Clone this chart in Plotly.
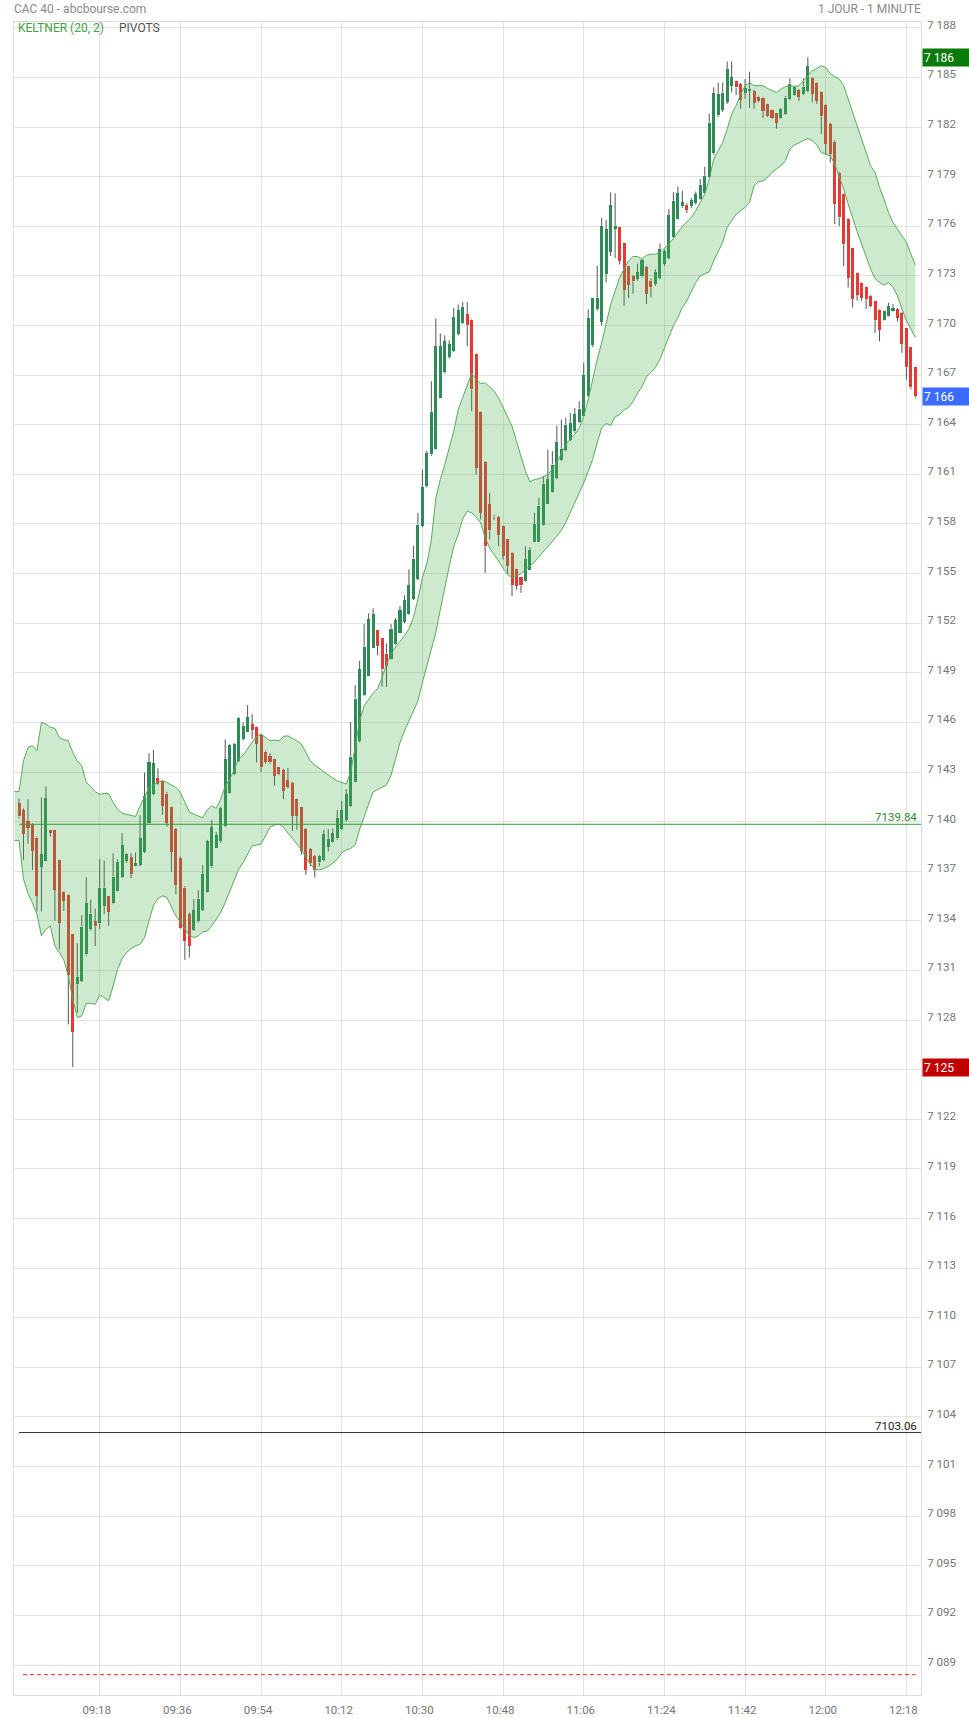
import plotly.graph_objects as go

# ---------------- data (1-minute candles, CAC 40, 09:00 -> 12:20) ----------------
start_minute = 9 * 60  # 09:00
opens = [
7141.12,7140.69,7140.01,7139.85,7139.04,7137.27,7137.63,7139.52,7139.48,7137.67,
7135.77,7135.55,7133.19,7130.16,7130.37,7131.98,7133.51,7133.98,7133.84,7134.90,
7135.49,7135.05,7135.81,7136.66,7137.63,7137.85,7137.33,7137.39,7138.17,7139.89,
7141.70,7142.61,7142.43,7141.70,7140.86,7139.54,7137.83,7136.01,7134.40,7133.45,
7134.00,7134.66,7135.75,7137.29,7138.43,7138.80,7139.75,7141.76,7142.87,7143.68,
7144.99,7145.44,7145.90,7145.70,7145.23,7144.24,7143.94,7143.76,7143.28,7143.12,
7142.51,7142.31,7141.36,7140.86,7139.54,7138.33,7137.93,7137.53,7137.69,7138.48,
7138.74,7138.98,7139.58,7140.11,7140.95,7142.42,7144.88,7147.64,7148.81,7150.52,
7151.57,7151.09,7150.16,7149.82,7150.73,7151.43,7152.10,7152.54,7153.49,7154.70,
7157.90,7160.28,7162.20,7162.54,7165.63,7167.18,7168.10,7168.45,7169.50,7170.16,
7170.67,7170.36,7168.25,7164.78,7161.73,7159.21,7158.45,7158.43,7157.86,7157.06,
7156.25,7155.28,7154.78,7154.54,7155.24,7156.92,7156.92,7157.96,7159.23,7159.94,
7160.79,7161.85,7162.50,7163.10,7163.60,7164.15,7164.52,7165.73,7168.81,7171.00,
7170.21,7173.10,7174.46,7175.86,7175.98,7174.96,7173.58,7173.00,7172.81,7172.98,
7173.52,7172.71,7172.53,7172.87,7173.73,7174.09,7175.35,7176.42,7177.20,7177.30,
7177.20,7177.40,7177.64,7178.04,7179.00,7180.41,7182.71,7183.02,7183.51,7184.49,
7184.76,7184.59,7184.08,7184.18,7184.18,7183.84,7183.78,7183.37,7183.02,7182.82,
7182.55,7182.80,7183.71,7183.94,7184.22,7184.02,7184.18,7184.94,7184.66,7184.09,
7183.35,7182.18,7181.11,7179.25,7177.98,7176.46,7174.66,7173.15,7172.54,7172.30,
7171.80,7171.47,7170.96,7170.34,7170.60,7170.89,7170.99,7170.73,7169.82,7168.67,
7167.46]
highs = [
7141.40,7140.80,7141.36,7139.90,7139.10,7141.46,7142.13,7139.52,7139.50,7137.70,
7135.80,7135.60,7133.20,7132.64,7134.34,7136.64,7135.29,7134.74,7137.73,7137.65,
7135.50,7138.09,7137.71,7139.30,7138.09,7138.10,7138.13,7140.39,7142.97,7144.14,
7144.33,7143.22,7142.50,7141.80,7140.90,7139.60,7137.90,7136.10,7134.50,7135.31,
7135.85,7137.39,7138.90,7140.09,7139.38,7140.90,7144.97,7144.70,7144.75,7146.30,
7146.00,7147.05,7146.50,7145.75,7145.30,7144.30,7144.14,7143.80,7143.30,7143.20,
7143.24,7142.40,7141.40,7140.90,7139.60,7138.40,7138.00,7138.00,7139.50,7139.54,
7139.58,7140.71,7141.26,7141.97,7146.03,7148.25,7149.72,7151.94,7152.60,7152.90,
7151.60,7151.10,7150.77,7151.94,7152.30,7153.04,7153.69,7155.26,7156.67,7158.67,
7161.29,7162.40,7166.63,7170.42,7169.52,7169.40,7169.10,7171.07,7171.27,7171.43,
7171.41,7170.40,7168.30,7164.80,7161.80,7159.88,7158.55,7158.50,7157.90,7157.10,
7156.30,7155.30,7154.80,7156.65,7156.60,7158.67,7159.58,7160.89,7162.50,7162.40,
7163.95,7164.31,7164.42,7164.72,7165.02,7165.42,7167.74,7170.97,7171.67,7173.60,
7176.52,7176.38,7178.05,7178.00,7176.00,7175.00,7173.60,7173.05,7173.75,7174.00,
7173.60,7172.85,7173.40,7174.96,7174.60,7177.03,7178.05,7178.41,7178.15,7177.40,
7177.70,7178.10,7178.85,7179.60,7182.80,7184.40,7184.69,7184.69,7185.96,7185.96,
7184.80,7184.65,7184.90,7185.35,7184.25,7183.90,7183.80,7183.40,7183.05,7182.85,
7183.15,7183.88,7184.94,7184.45,7184.30,7184.94,7186.22,7185.00,7184.70,7184.15,
7183.40,7182.25,7181.20,7179.30,7178.00,7176.50,7174.70,7173.20,7172.60,7172.35,
7171.85,7171.50,7171.00,7170.90,7171.37,7171.30,7171.05,7170.80,7169.85,7168.70,
7167.50]
lows = [
7140.20,7137.69,7138.66,7137.08,7134.56,7134.56,7137.60,7139.10,7134.00,7132.28,
7134.60,7127.74,7125.16,7128.45,7130.30,7131.90,7133.40,7132.48,7133.50,7134.40,
7133.70,7135.00,7135.80,7136.60,7137.50,7136.58,7137.30,7137.30,7138.10,7139.80,
7141.60,7142.20,7140.41,7139.70,7136.96,7135.61,7133.50,7131.64,7131.78,7133.40,
7133.90,7134.60,7135.70,7137.20,7138.40,7138.70,7139.70,7141.70,7142.80,7143.60,
7144.90,7145.40,7145.00,7143.58,7143.00,7143.50,7143.50,7142.17,7142.80,7141.36,
7142.00,7139.44,7139.50,7138.00,7136.78,7137.30,7136.62,7137.30,7137.60,7138.19,
7138.70,7138.90,7139.50,7140.00,7140.90,7142.40,7144.80,7147.60,7148.80,7150.50,
7150.06,7148.15,7148.15,7149.80,7150.70,7151.40,7152.00,7152.50,7153.40,7154.60,
7157.80,7160.20,7162.10,7162.50,7165.60,7167.10,7168.00,7168.40,7169.40,7170.10,
7168.75,7164.82,7160.99,7158.27,7155.04,7157.06,7158.25,7156.65,7155.85,7155.00,
7153.63,7154.03,7153.83,7154.50,7155.20,7156.90,7156.90,7157.90,7159.20,7159.90,
7160.70,7161.80,7162.40,7163.00,7163.50,7164.10,7164.50,7165.70,7168.70,7170.90,
7170.00,7172.60,7174.20,7174.09,7173.69,7171.19,7171.66,7171.92,7172.70,7172.90,
7171.30,7171.70,7172.40,7172.80,7173.60,7174.00,7175.30,7176.40,7177.10,7176.80,
7177.10,7177.30,7177.60,7178.00,7178.90,7180.30,7182.60,7182.90,7183.40,7184.08,
7183.92,7183.10,7183.71,7183.16,7183.10,7183.50,7182.55,7182.60,7182.49,7181.90,
7182.50,7182.75,7183.65,7183.90,7183.57,7183.95,7184.10,7183.50,7183.40,7181.57,
7180.36,7179.86,7176.13,7176.00,7173.58,7172.30,7171.09,7171.50,7171.50,7171.00,
7171.10,7169.55,7169.05,7170.30,7170.55,7170.85,7170.26,7168.34,7166.73,7166.13,
7165.62]
closes = [
7140.31,7139.26,7139.63,7138.23,7135.51,7138.03,7141.42,7139.32,7135.87,7133.90,
7135.21,7130.71,7127.28,7130.59,7133.65,7135.07,7134.44,7133.67,7136.01,7136.01,
7134.54,7136.68,7137.57,7138.58,7138.03,7136.82,7137.49,7138.98,7141.52,7143.58,
7143.52,7142.25,7140.96,7139.91,7138.17,7136.18,7133.55,7132.79,7132.48,7134.64,
7135.35,7136.82,7138.80,7139.67,7139.18,7140.82,7143.76,7144.65,7144.69,7146.24,
7145.80,7146.30,7145.54,7144.69,7143.28,7143.62,7143.58,7142.77,7142.87,7141.86,
7142.11,7140.35,7140.35,7138.23,7137.08,7137.49,7137.08,7137.93,7139.24,7138.94,
7139.30,7140.21,7140.69,7141.66,7143.93,7147.44,7149.21,7150.58,7152.24,7152.54,
7150.62,7149.21,7149.42,7151.67,7152.18,7152.78,7153.39,7154.29,7155.91,7157.96,
7160.24,7162.26,7164.78,7168.75,7168.75,7169.05,7168.85,7170.52,7170.91,7171.13,
7170.02,7166.13,7161.39,7158.67,7156.65,7157.62,7158.47,7157.32,7156.09,7155.44,
7154.33,7154.27,7154.29,7155.89,7156.41,7158.02,7159.11,7160.44,7160.69,7161.59,
7162.96,7162.54,7164.01,7164.11,7164.62,7164.98,7167.00,7170.46,7171.67,7171.68,
7176.02,7175.82,7177.28,7176.02,7173.89,7172.16,7172.47,7172.67,7173.24,7173.95,
7171.90,7172.31,7173.24,7174.60,7174.50,7176.67,7177.54,7178.00,7177.44,7177.00,
7177.58,7177.94,7178.51,7179.05,7182.26,7184.04,7183.98,7184.08,7185.51,7185.00,
7184.39,7183.63,7184.33,7184.29,7183.47,7183.57,7182.96,7182.65,7182.55,7182.24,
7183.10,7183.78,7184.63,7184.39,7183.84,7184.45,7185.67,7184.00,7183.59,7182.64,
7180.97,7180.36,7177.34,7176.53,7174.90,7172.86,7171.59,7171.85,7171.67,7171.59,
7171.19,7170.34,7169.74,7170.85,7171.19,7171.03,7170.48,7168.91,7167.46,7166.25,
7165.72]

# Keltner (20, 2) channel, first point sits one minute before the open
keltner_start = -1
keltner_upper = [
7141.82,7141.82,7143.68,7144.49,7144.59,7144.29,7146.00,7145.90,7145.70,7145.64,7145.09,
7144.95,7144.89,7144.18,7143.68,7143.38,7142.37,7142.13,7141.80,7141.66,7141.70,
7141.70,7141.16,7140.75,7140.51,7140.45,7140.35,7140.31,7140.92,7141.52,7142.07,
7142.21,7142.37,7142.47,7142.37,7142.21,7142.07,7141.76,7141.16,7140.59,7140.45,
7140.35,7140.23,7140.71,7140.96,7140.80,7141.36,7142.13,7142.57,7143.14,7143.78,
7144.02,7144.43,7144.79,7145.15,7145.29,7145.09,7144.89,7144.93,7144.89,7145.15,
7145.19,7145.03,7144.89,7144.69,7144.18,7143.68,7143.42,7143.22,7143.01,7142.81,
7142.63,7142.47,7142.37,7142.27,7143.00,7144.58,7146.09,7147.00,7147.40,7147.76,
7148.04,7148.71,7149.52,7150.12,7150.56,7150.87,7151.23,7151.67,7152.34,7153.45,
7154.76,7155.60,7157.06,7159.58,7160.69,7161.59,7162.60,7163.61,7164.92,7165.62,
7166.37,7167.10,7166.77,7166.49,7166.53,7166.29,7166.03,7165.62,7165.02,7164.52,
7163.91,7163.00,7162.10,7161.19,7160.54,7160.69,7160.73,7160.85,7160.99,7161.33,
7161.73,7162.26,7162.80,7163.15,7163.41,7163.81,7164.52,7165.52,7166.83,7167.94,
7168.95,7170.16,7171.27,7172.08,7172.90,7173.41,7173.91,7174.17,7174.17,7174.01,
7174.25,7174.31,7174.31,7174.42,7174.66,7174.92,7175.26,7175.63,7175.99,7176.27,
7176.53,7176.94,7177.48,7177.94,7178.85,7180.06,7180.56,7181.07,7181.87,7182.78,
7183.29,7183.99,7184.50,7184.70,7184.50,7184.50,7184.50,7184.33,7184.19,7184.09,
7184.29,7184.44,7184.50,7184.46,7184.50,7184.80,7185.06,7185.40,7185.54,7185.71,
7185.60,7185.24,7185.06,7184.90,7184.50,7183.69,7182.78,7181.98,7181.27,7180.46,
7179.66,7179.25,7178.35,7177.64,7176.83,7176.23,7175.83,7175.42,7175.02,7174.31,
7173.65]
keltner_lower = [
7138.86,7138.86,7136.52,7135.67,7135.07,7134.40,7133.09,7133.49,7133.69,7132.48,7132.08,
7131.64,7130.67,7129.26,7128.15,7128.25,7129.01,7129.01,7128.95,7129.50,7129.36,
7129.16,7130.06,7131.07,7131.72,7132.08,7132.32,7132.48,7132.58,7132.99,7134.00,
7134.94,7135.35,7135.51,7135.41,7134.80,7134.30,7133.94,7133.49,7133.13,7132.99,
7133.09,7133.33,7133.39,7133.69,7134.10,7134.50,7135.11,7135.75,7136.42,7137.12,
7137.53,7138.03,7138.54,7138.58,7138.64,7139.14,7139.65,7139.79,7139.85,7139.65,
7139.34,7138.98,7138.64,7138.33,7137.83,7137.43,7137.12,7137.08,7137.16,7137.29,
7137.49,7137.73,7138.09,7138.29,7138.37,7138.60,7139.54,7140.34,7141.05,7141.79,
7141.96,7142.08,7142.22,7142.80,7143.77,7144.78,7145.48,7146.09,7146.69,7147.30,
7148.41,7149.42,7150.52,7151.43,7152.82,7154.23,7155.44,7156.65,7157.36,7158.31,
7158.77,7158.67,7158.43,7158.06,7157.16,7156.55,7156.15,7155.75,7155.28,7154.94,
7154.74,7154.84,7155.00,7155.24,7155.48,7155.69,7156.01,7156.35,7156.65,7156.96,
7157.26,7157.62,7158.10,7158.67,7159.27,7159.88,7160.48,7161.19,7161.90,7162.90,
7163.81,7164.07,7163.95,7164.48,7164.60,7164.90,7165.05,7165.40,7165.90,7166.30,
7166.90,7167.16,7167.46,7167.96,7168.67,7169.27,7169.98,7170.48,7171.09,7171.49,
7172.00,7172.60,7173.00,7173.15,7173.25,7173.91,7174.42,7175.02,7175.93,7176.33,
7176.73,7176.94,7177.14,7177.44,7178.45,7178.69,7178.75,7178.95,7179.25,7179.46,
7179.66,7179.96,7180.67,7180.91,7181.03,7181.17,7181.31,7181.17,7180.91,7180.46,
7180.36,7180.26,7179.76,7179.05,7178.25,7177.34,7176.43,7175.67,7174.92,7174.21,
7173.41,7172.84,7172.60,7172.44,7172.60,7172.30,7171.79,7170.99,7170.28,7169.78,
7169.27]

# pivot levels
pivot_main = 7139.84
pivot_support = 7103.06
pivot_low = 7088.42

# axis ticks
x_tick_labels = ["09:18", "09:36", "09:54", "10:12", "10:30", "10:48",
                 "11:06", "11:24", "11:42", "12:00", "12:18"]
y_tick_values = list(range(7089, 7189, 3))
y_tick_labels = [f"{v // 1000} {v % 1000:03d}" for v in y_tick_values]

# ---------------- derived ----------------
n = len(opens)
xs = list(range(n))
def to_min(lbl):
    h, m = lbl.split(":")
    return int(h) * 60 + int(m) - start_minute
x_tick_vals = [to_min(t) for t in x_tick_labels]
kx = [keltner_start + k for k in range(len(keltner_upper))]

GREEN = "#2e8a57"
RED = "#e53935"
WICK = "#555555"
FONT = "Roboto"

wx, wy = [], []
for i in range(n):
    top = max(opens[i], closes[i]); bot = min(opens[i], closes[i])
    if highs[i] > top:
        wx += [i, i, None]; wy += [top, highs[i], None]
    if lows[i] < bot:
        wx += [i, i, None]; wy += [lows[i], bot, None]

base = [min(o, c) for o, c in zip(opens, closes)]
height = [max(abs(c - o), 0.06) for o, c in zip(opens, closes)]
colors = [GREEN if c >= o else RED for o, c in zip(opens, closes)]

fig = go.Figure()
fig.add_trace(go.Bar(x=xs, y=height, base=base, width=0.68,
                     marker=dict(color=colors, line=dict(width=0)),
                     hoverinfo="skip", showlegend=False))
fig.add_trace(go.Scatter(x=wx, y=wy, mode="lines",
                         line=dict(color=WICK, width=1),
                         hoverinfo="skip", showlegend=False))
fig.add_trace(go.Scatter(x=kx, y=keltner_upper, mode="lines",
                         line=dict(color="#5aab5a", width=1),
                         hoverinfo="skip", showlegend=False))
fig.add_trace(go.Scatter(x=kx, y=keltner_lower, mode="lines", fill="tonexty",
                         fillcolor="rgba(76,175,80,0.28)",
                         line=dict(color="#5aab5a", width=1),
                         hoverinfo="skip", showlegend=False))

x_right = 201.25
fig.add_trace(go.Scatter(x=[0, x_right], y=[pivot_main] * 2, mode="lines",
                         line=dict(color="#3a9a3a", width=1),
                         hoverinfo="skip", showlegend=False))
fig.add_trace(go.Scatter(x=[0, x_right], y=[pivot_support] * 2, mode="lines",
                         line=dict(color="#333333", width=1),
                         hoverinfo="skip", showlegend=False))
fig.add_trace(go.Scatter(x=[0.9, x_right - 1.2], y=[pivot_low] * 2, mode="lines",
                         line=dict(color="#ff2020", width=1, dash="4px,3px"),
                         hoverinfo="skip", showlegend=False))

ann = []
ann.append(dict(x=1, xref="paper", xanchor="right", xshift=-2, y=pivot_main, yref="y",
                yanchor="bottom", yshift=-2, text=f"{pivot_main:.2f}", showarrow=False,
                font=dict(family=FONT, size=11.5, color="#2e8b2e")))
ann.append(dict(x=1, xref="paper", xanchor="right", xshift=-2, y=pivot_support, yref="y",
                yanchor="bottom", yshift=-2, text=f"{pivot_support:.2f}", showarrow=False,
                font=dict(family=FONT, size=11.5, color="#222222")))
ann.append(dict(x=0, xref="paper", xanchor="left", xshift=-2, y=1, yref="paper",
                yanchor="middle", yshift=13, text="CAC 40 - abcbourse.com", showarrow=False,
                font=dict(family=FONT, size=12, color="#8a8a8a")))
ann.append(dict(x=1, xref="paper", xanchor="right", xshift=2, y=1, yref="paper",
                yanchor="middle", yshift=13, text="1 JOUR - 1 MINUTE", showarrow=False,
                font=dict(family=FONT, size=12, color="#8a8a8a")))
ann.append(dict(x=0, xref="paper", xanchor="left", xshift=2, y=1, yref="paper",
                yanchor="middle", yshift=-6, text="KELTNER (20, 2)", showarrow=False,
                font=dict(family=FONT, size=12, color="#43a047")))
ann.append(dict(x=0, xref="paper", xanchor="left", xshift=103, y=1, yref="paper",
                yanchor="middle", yshift=-6, text="PIVOTS", showarrow=False,
                font=dict(family=FONT, size=12, color="#555555")))

def price_box(v, bg):
    r = int(round(v))
    return dict(x=1, xref="paper", xanchor="left", xshift=1, y=v, yref="y",
                yanchor="middle", text=f"{r // 1000} {r % 1000:03d}", showarrow=False,
                bgcolor=bg, width=45, height=15, align="left", borderpad=1,
                font=dict(family=FONT, size=12, color="white"))
ann.append(price_box(max(highs), "#0a7a0a"))
ann.append(price_box(min(lows), "#c00000"))
ann.append(price_box(closes[-1], "#3b6cff"))

fig.update_layout(
    width=969, height=1718,
    margin=dict(l=14, r=48, t=22, b=23, pad=0, autoexpand=False),
    paper_bgcolor="white", plot_bgcolor="white",
    bargap=0, showlegend=False, annotations=ann,
    font=dict(family=FONT, size=12, color="#757575"),
    xaxis=dict(range=[-1.12, x_right], tickvals=x_tick_vals, ticktext=x_tick_labels,
               showgrid=True, gridcolor="#e2e2e2", gridwidth=1, zeroline=False,
               showline=True, linecolor="#dcdcdc", linewidth=1, mirror=True,
               ticks="", tickfont=dict(family=FONT, size=11.5, color="#757575"),
               ticklabelstandoff=4, ticklabelshift=-3, automargin=False, fixedrange=True),
    yaxis=dict(range=[7087.19, 7188.35], side="right", tickvals=y_tick_values,
               ticktext=y_tick_labels, showgrid=True, gridcolor="#e2e2e2", gridwidth=1,
               zeroline=False, showline=True, linecolor="#dcdcdc", linewidth=1,
               mirror=True, ticks="", tickfont=dict(family=FONT, size=11.5, color="#757575"),
               ticklabelstandoff=3, ticklabelshift=-3, automargin=False, fixedrange=True),
)

# remove the default 8px page margin so the figure sits at the window's top-left
fig.write_html("out.html",
               config={"displayModeBar": False, "staticPlot": True},
               post_script="document.body.style.margin='0';document.body.style.overflow='hidden';")
